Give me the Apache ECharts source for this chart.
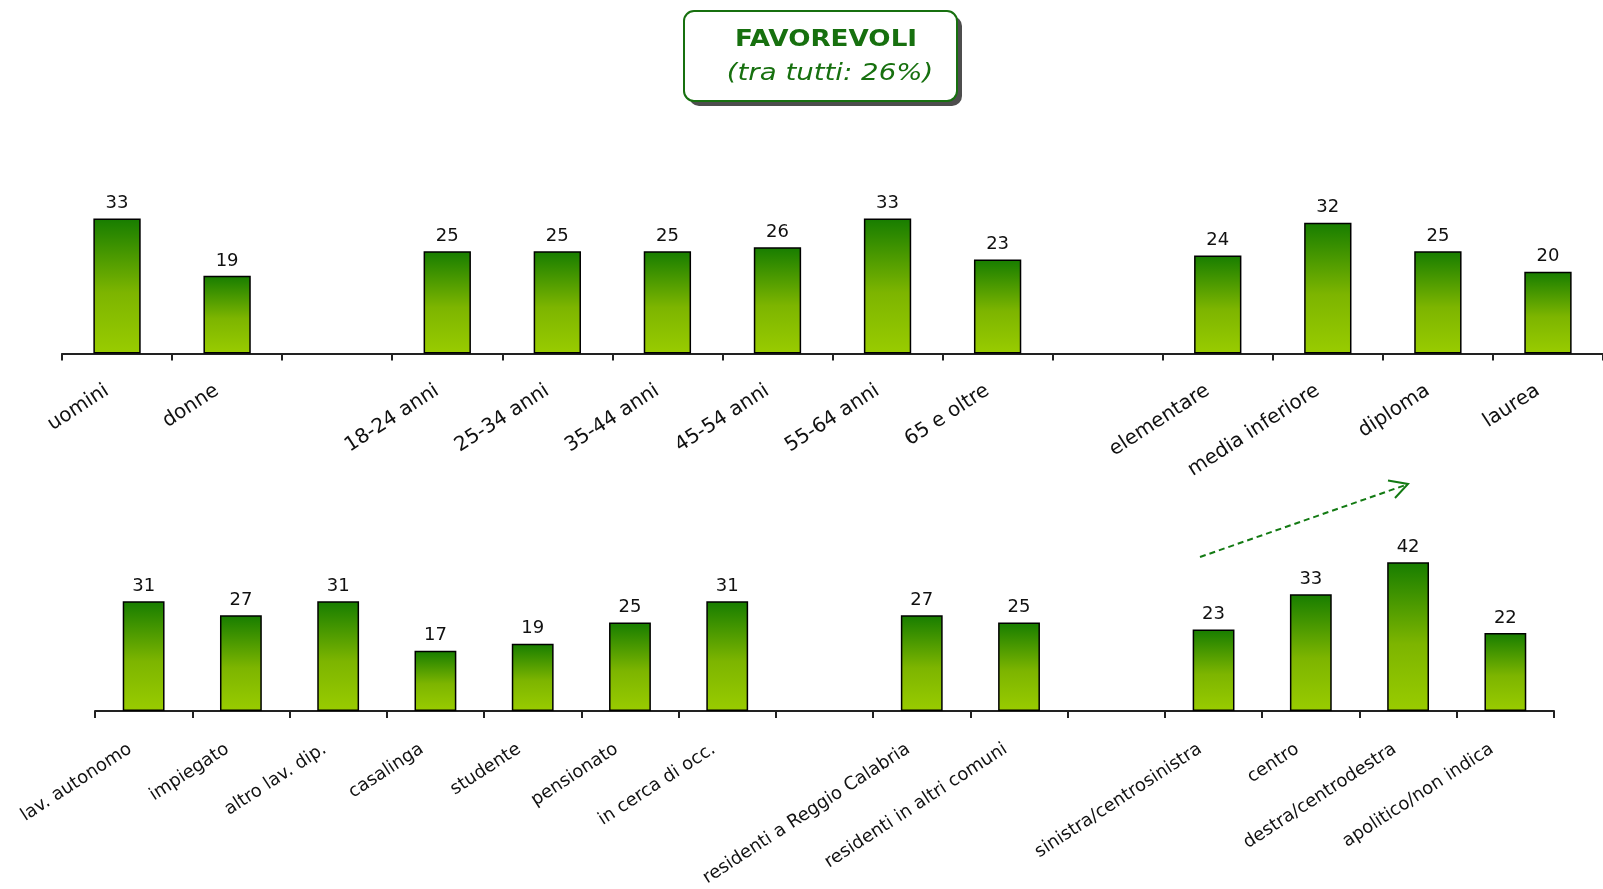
<!DOCTYPE html>
<html>
<head>
<meta charset="utf-8">
<script src="https://cdn.jsdelivr.net/npm/echarts@6/dist/echarts.min.js"></script>
<style>
  html, body { margin: 0; padding: 0; background: #fff; }
  #chart { width: 1603px; height: 889px; }
</style>
</head>
<body>
<div id="chart"></div>
<script>
// top row: sesso, età, titolo di studio ('' = spazio vuoto)
var topCats = ['uomini', 'donne', '', '18-24 anni', '25-34 anni', '35-44 anni', '45-54 anni',
    '55-64 anni', '65 e oltre', '', 'elementare', 'media inferiore', 'diploma', 'laurea'];
var topVals = [33, 19, '-', 25, 25, 25, 26, 33, 23, '-', 24, 32, 25, 20];

// bottom row: professione, residenza, orientamento politico
var botCats = ['lav. autonomo', 'impiegato', 'altro lav. dip.', 'casalinga', 'studente', 'pensionato',
    'in cerca di occ.', '', 'residenti a Reggio Calabria', 'residenti in altri comuni', '',
    'sinistra/centrosinistra', 'centro', 'destra/centrodestra', 'apolitico/non indica'];
var botVals = [31, 27, 31, 17, 19, 25, 31, '-', 27, 25, '-', 23, 33, 42, 22];

var titleText = 'FAVOREVOLI';
var subText = '(tra tutti: 26%)';

var FONT = '"DejaVu Sans", Verdana, sans-serif';
var GREEN = '#17700f';

var barGradient = new echarts.graphic.LinearGradient(0, 0, 0, 1, [
    { offset: 0, color: '#177d00' },
    { offset: 0.55, color: '#7db500' },
    { offset: 1, color: '#99cc00' }
]);

function makeX(gridIndex, cats, fontSize, margin, shift) {
    return {
        type: 'category',
        gridIndex: gridIndex,
        data: cats,
        boundaryGap: true,
        axisLine: { show: true, lineStyle: { color: '#222', width: 2 } },
        axisTick: { show: true, alignWithLabel: false, length: 7, lineStyle: { color: '#222', width: 2 } },
        axisLabel: {
            interval: 0,
            rotate: 33,
            margin: margin,
            padding: [0, shift, 0, 0],
            color: '#111',
            fontFamily: FONT,
            fontSize: fontSize
        },
        splitLine: { show: false }
    };
}

function makeY(gridIndex, max) {
    return {
        type: 'value',
        gridIndex: gridIndex,
        min: 0,
        max: max,
        show: false,
        splitLine: { show: false }
    };
}

function makeBar(idx, vals) {
    return {
        type: 'bar',
        xAxisIndex: idx,
        yAxisIndex: idx,
        data: vals,
        barWidth: '43%',
        itemStyle: {
            color: barGradient,
            borderColor: '#000',
            borderWidth: 1.5
        },
        label: {
            show: true,
            position: 'top',
            distance: 6,
            color: '#111',
            fontFamily: FONT,
            fontSize: 18
        }
    };
}

var option = {
    backgroundColor: '#fff',
    animation: false,
    grid: [
        { left: 62, width: 1550, top: 190, height: 163.5 },
        { left: 95, width: 1459, top: 534, height: 178.5 }
    ],
    xAxis: [makeX(0, topCats, 20, 29, 12), makeX(1, botCats, 18, 28, 16)],
    yAxis: [makeY(0, 40), makeY(1, 50)],
    series: [makeBar(0, topVals), makeBar(1, botVals)],
    graphic: [
        // ombra del riquadro titolo
        {
            type: 'rect',
            shape: { x: 689, y: 16, width: 273, height: 90, r: 10 },
            style: { fill: '#4d4d4d' }
        },
        {
            type: 'rect',
            shape: { x: 684, y: 11, width: 273, height: 90, r: 10 },
            style: { fill: '#fff', stroke: GREEN, lineWidth: 2 }
        },
        {
            type: 'text',
            x: 826, y: 40,
            scaleX: 1.14,
            style: {
                text: titleText,
                fill: GREEN,
                font: 'bold 23px ' + FONT,
                textAlign: 'center',
                textVerticalAlign: 'middle'
            }
        },
        {
            type: 'text',
            x: 830, y: 74,
            scaleX: 1.2,
            style: {
                text: subText,
                fill: GREEN,
                font: 'italic 23px ' + FONT,
                textAlign: 'center',
                textVerticalAlign: 'middle'
            }
        },
        // freccia tratteggiata verso destra/centrodestra
        {
            type: 'line',
            shape: { x1: 1200, y1: 557, x2: 1407, y2: 484.5 },
            style: { stroke: '#137a13', lineWidth: 2, lineDash: [6, 4] }
        },
        {
            type: 'polyline',
            shape: { points: [[1395, 498], [1408, 484], [1388, 480.5]] },
            style: { stroke: '#137a13', lineWidth: 2, fill: null }
        }
    ]
};

var myChart = echarts.init(document.getElementById('chart'));
myChart.setOption(option);
</script>
</body>
</html>
